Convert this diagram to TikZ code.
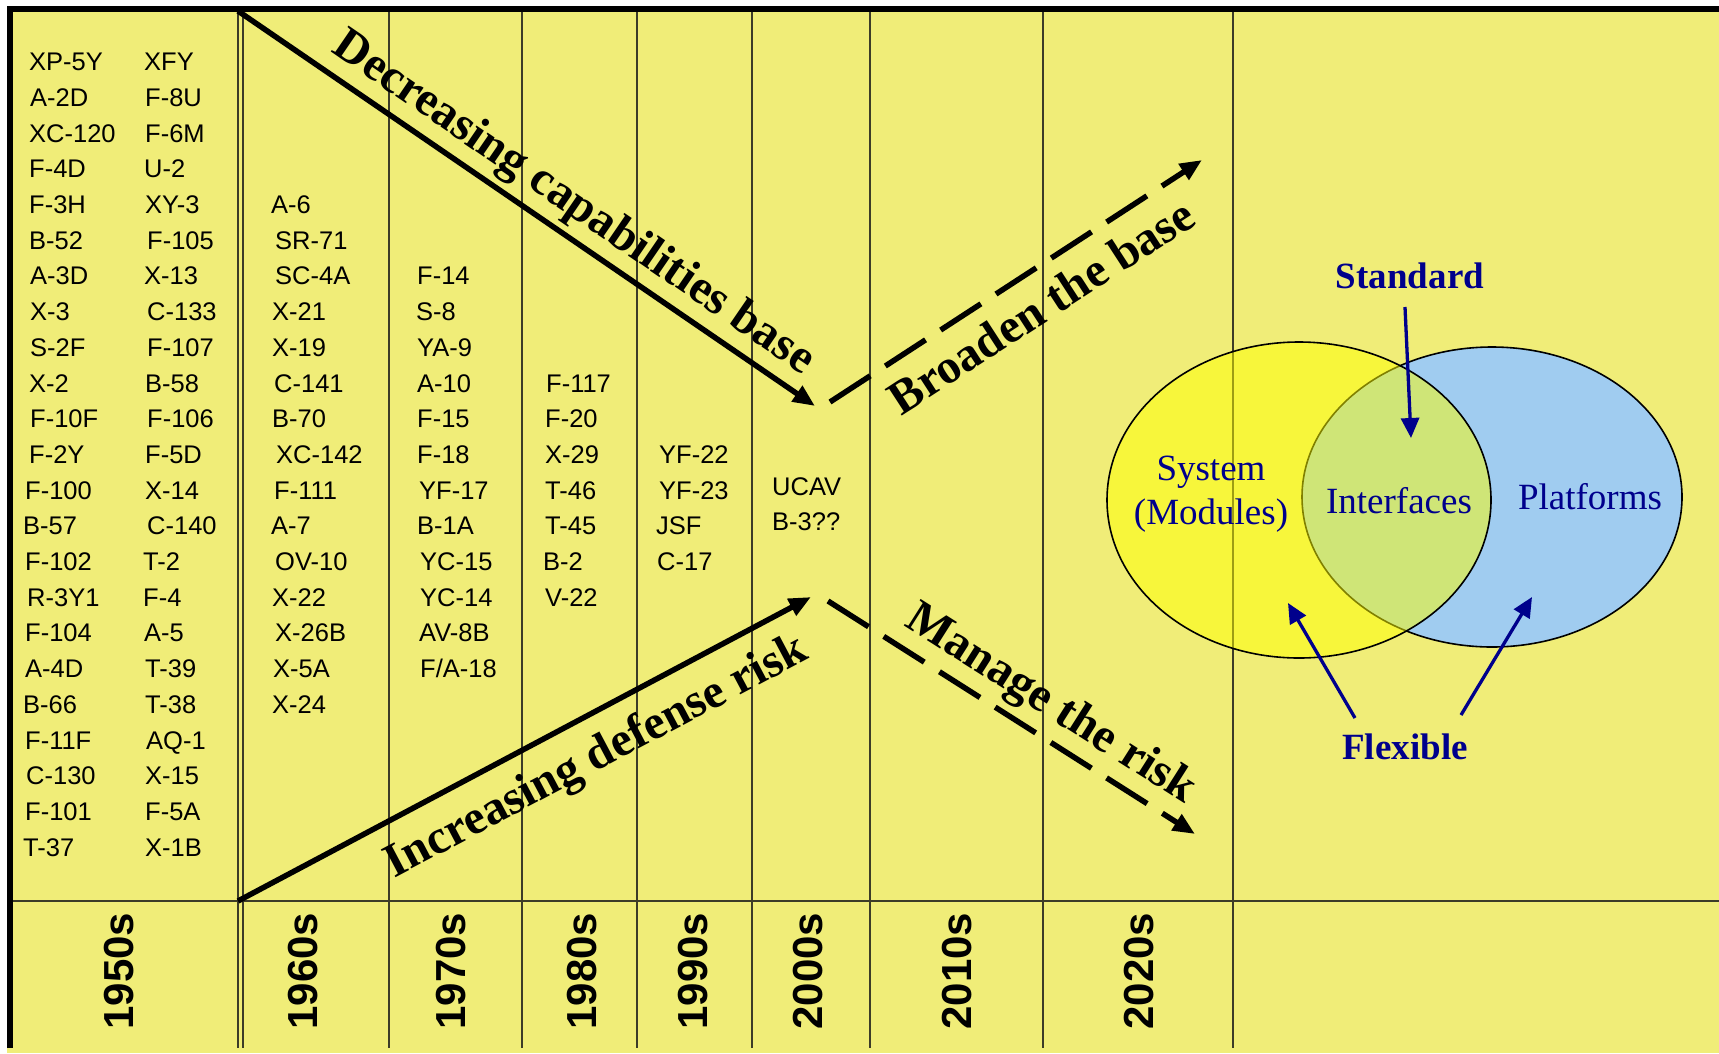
\documentclass[tikz,border=0pt]{standalone}
\usepackage{fontspec}
\setmainfont{Liberation Serif}
\setsansfont{Liberation Sans}
\usetikzlibrary{arrows.meta}
\definecolor{bg}{RGB}{240,237,120}
\definecolor{venny}{RGB}{255,255,0}
\definecolor{vennb}{RGB}{160,204,240}
\definecolor{navy}{RGB}{0,0,140}
\definecolor{gridc}{RGB}{60,60,40}
\begin{document}
\begin{tikzpicture}[x=1pt,y=-1pt,
  plane/.style={font=\fontsize{25.5}{30}\selectfont\sffamily, anchor=base west, inner sep=0pt},
  decade/.style={font=\fontsize{42}{48}\selectfont\sffamily\bfseries, rotate=90, inner sep=0pt},
  trendlbl/.style={font=\fontsize{48}{54}\selectfont\bfseries, inner sep=0pt},
  trend/.style={line width=5.5pt, -{Triangle[length=22pt,width=18pt]}},
  dashtrend/.style={trend, dash pattern=on 48pt off 18pt},
  gridl/.style={draw=gridc, line width=1.3pt},
  venntxt/.style={text=navy, font=\fontsize{37}{44}\selectfont, inner sep=0pt},
  vennbold/.style={text=navy, font=\fontsize{37}{44}\selectfont\bfseries, inner sep=0pt},
  navyarrow/.style={draw=navy, fill=navy, line width=3.3pt, -{Triangle[length=20pt,width=18pt]}},
]
\useasboundingbox (0,0) rectangle (1719,1053);
% background and borders
\fill[bg] (7,6) rectangle (1719,1053);
\fill[black] (7,6) rectangle (1719,12);
\fill[black] (7,6) rectangle (13,1048);
% grid
\foreach \xx in {238,243,389,522,637,752,870,1043,1233}
  \draw[gridl] (\xx,12) -- (\xx,1048);
\draw[gridl] (13,901) -- (1719,901);

% aircraft lists
\foreach \t/\xx [count=\i from 0] in {XP-5Y/29,A-2D/30,XC-120/29,F-4D/29,F-3H/29,B-52/29,A-3D/30,X-3/30,S-2F/30,X-2/29,F-10F/30,F-2Y/29,F-100/25,B-57/23,F-102/25,R-3Y1/27,F-104/25,A-4D/25,B-66/23,F-11F/25,C-130/26,F-101/25,T-37/23}
  \node[plane] (a\i) at (\xx,{70.7+35.7*\i}) {\t};
\foreach \t/\xx [count=\i from 0] in {XFY/144,F-8U/145,F-6M/145,U-2/144,XY-3/145,F-105/147,X-13/144,C-133/147,F-107/147,B-58/145,F-106/147,F-5D/145,X-14/145,C-140/147,T-2/143,F-4/143,A-5/144,T-39/145,T-38/145,AQ-1/146,X-15/145,F-5A/145,X-1B/145}
  \node[plane] (b\i) at (\xx,{70.7+35.7*\i}) {\t};
\foreach \t/\xx [count=\i from 4] in {A-6/271,SR-71/275,SC-4A/275,X-21/272,X-19/272,C-141/274,B-70/272,XC-142/276,F-111/274,A-7/271,OV-10/275,X-22/272,X-26B/275,X-5A/273,X-24/272}
  \node[plane] (c\i) at (\xx,{70.7+35.7*\i}) {\t};
\foreach \t/\xx [count=\i from 6] in {F-14/417,S-8/416,YA-9/417,A-10/417,F-15/417,F-18/417,YF-17/419,B-1A/417,YC-15/420,YC-14/420,AV-8B/419,{F/A-18}/420}
  \node[plane] (d\i) at (\xx,{70.7+35.7*\i}) {\t};
\foreach \t/\xx [count=\i from 9] in {F-117/546,F-20/545,X-29/545,T-46/545,T-45/545,B-2/543,V-22/545}
  \node[plane] (e\i) at (\xx,{70.7+35.7*\i}) {\t};
\foreach \t/\xx [count=\i from 11] in {YF-22/659,YF-23/659,JSF/656,C-17/657}
  \node[plane] (f\i) at (\xx,{70.7+35.7*\i}) {\t};
\node[plane] (ucav) at (772,495) {UCAV};
\node[plane] (b3) at (772,530) {B-3??};

% decades
\node[decade] (d1950) at (119,971) {1950s};
\node[decade] (d1960) at (303,971) {1960s};
\node[decade] (d1970) at (451,971) {1970s};
\node[decade] (d1980) at (582,971) {1980s};
\node[decade] (d1990) at (693,971) {1990s};
\node[decade] (d2000) at (808,971) {2000s};
\node[decade] (d2010) at (957,971) {2010s};
\node[decade] (d2020) at (1139,971) {2020s};

% trend arrows
\coordinate (decS) at (238,11);
\coordinate (decE) at (815,406);
\coordinate (incS) at (238,901);
\coordinate (incE) at (811,597);
\coordinate (brS) at (830,402);
\coordinate (brE) at (1202,160);
\coordinate (mgS) at (828,601);
\coordinate (mgE) at (1195,834);
\draw[trend] (decS) -- (decE);
\draw[trend] (incS) -- (incE);
\draw[dashtrend] (brS) -- (brE);
\draw[dashtrend] (mgS) -- (mgE);
\node[trendlbl, rotate=-34.4] (declbl) at (573,204) {Decreasing capabilities base};
\node[trendlbl, rotate=27.9] (inclbl) at (597,758) {Increasing defense risk};
\node[trendlbl, rotate=33] (brlbl) at (1041,306) {Broaden the base};
\node[trendlbl, rotate=-32.4] (mglbl) at (1050,705) {Manage the risk};

% Venn diagram
\path[fill=vennb, draw=black, line width=1.6pt] (1492,497) ellipse [x radius=190, y radius=150];
\path[fill=venny, fill opacity=0.5, draw=black, line width=1.6pt] (1299,500) ellipse [x radius=192, y radius=158];
\node[venntxt, align=center] (sys) at (1211,494) {System\\(Modules)};
\node[venntxt] (intf) at (1399,501) {Interfaces};
\node[venntxt] (plat) at (1590,497) {Platforms};
\node[vennbold] (std) at (1410,276) {Standard};
\node[vennbold] (flex) at (1405,747) {Flexible};
\coordinate (stdS) at (1405,307);
\coordinate (stdE) at (1411,438);
\coordinate (flAS) at (1355,718);
\coordinate (flAE) at (1288,603);
\coordinate (flBS) at (1461,715);
\coordinate (flBE) at (1532,597);
\draw[navyarrow] (stdS) -- (stdE);
\draw[navyarrow] (flAS) -- (flAE);
\draw[navyarrow] (flBS) -- (flBE);
\end{tikzpicture}
\end{document}
